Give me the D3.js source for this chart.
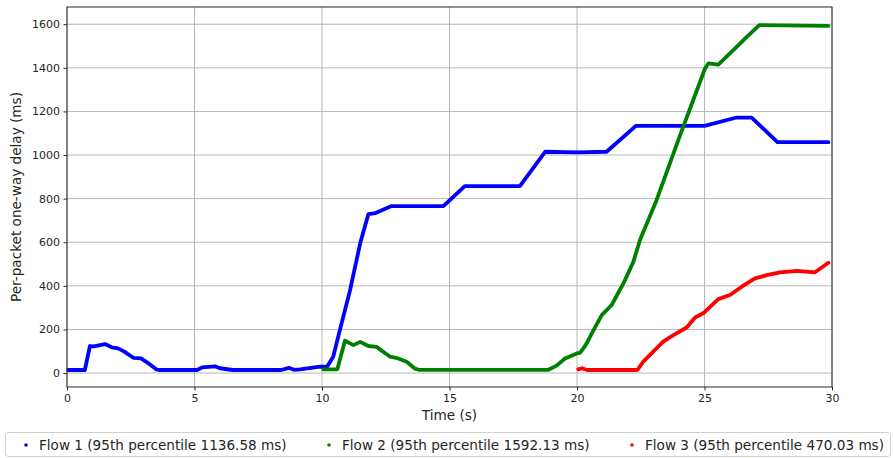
<!DOCTYPE html>
<html><head><meta charset="utf-8">
<script src="https://cdn.jsdelivr.net/npm/d3@7"></script>
<style>
html,body{margin:0;padding:0;background:#fff;}
svg{display:block;font-family:"DejaVu Sans",sans-serif;}
</style></head><body>
<svg id="chart" width="893" height="458"></svg>
<script>
// ---- data ----
const flow1T = [0.05,0.7,0.9,1.05,1.49,1.75,2.0,2.25,2.6,2.9,3.2,3.5,3.6,5.1,5.3,5.8,6.0,6.5,8.4,8.7,8.9,9.14,9.92,10.2,10.44,10.7,11.1,11.5,11.82,12.1,12.73,14.76,15.6,17.76,18.75,20.0,21.16,22.31,25.0,26.26,26.85,27.86,29.86];
const flow1V = [14,14,124,122,133,118,113,98,70,67,44,17,14,14,26,31,22,14,14,24,15,17,29,29,75,197,380,596,729,734,766,766,857,857,1015,1012,1015,1134,1134,1172,1172,1059,1059];
const flow2T = [10.05,10.6,10.9,11.23,11.5,11.82,12.14,12.67,12.99,13.32,13.65,13.8,18.88,19.2,19.53,19.99,20.12,20.25,20.38,20.58,20.97,21.36,21.82,22.21,22.47,23.12,24.04,25.02,25.15,25.54,26.13,26.66,27.15,29.86];
const flow2V = [17,17,148,128,143,124,120,75,67,52,20,15,15,34,67,90,93,113,136,182,266,312,411,510,610,793,1090,1397,1420,1415,1481,1542,1596,1592];
const flow3T = [20.05,20.2,20.4,22.37,22.6,22.99,23.38,23.78,24.3,24.63,24.95,25.54,26.0,26.46,26.98,27.44,27.96,28.62,29.33,29.86];
const flow3V = [17,22,14,14,52,98,144,174,209,255,274,339,358,396,434,449,462,469,462,506];
const flowNames = ["Flow 1 (95th percentile 1136.58 ms)","Flow 2 (95th percentile 1592.13 ms)","Flow 3 (95th percentile 470.03 ms)"];
const flowColors = ["#0000ff","#008000","#ff0000"];
const xTicks = [0,5,10,15,20,25,30];
const yTicks = [0,200,400,600,800,1000,1200,1400,1600];

// ---- layout ----
const svg = d3.select("#chart");
const L = 67, R = 832, T = 7, B = 387;
const x = d3.scaleLinear().domain([0,30]).range([L,R]);
const y = d3.scaleLinear().domain([-64,1679]).range([B,T]);

// grid
const g = svg.append("g");
g.selectAll(".gx").data(xTicks).enter().append("line")
  .attr("x1",d=>x(d)).attr("x2",d=>x(d)).attr("y1",T).attr("y2",B)
  .attr("stroke","#b0b0b0").attr("stroke-width",0.9);
g.selectAll(".gy").data(yTicks).enter().append("line")
  .attr("y1",d=>y(d)).attr("y2",d=>y(d)).attr("x1",L).attr("x2",R)
  .attr("stroke","#b0b0b0").attr("stroke-width",0.9);

// series
const series = [[flow1T,flow1V],[flow2T,flow2V],[flow3T,flow3V]];
const line = d3.line().x(d=>x(d[0])).y(d=>y(d[1]));
series.forEach((s,i)=>{
  const pts = s[0].map((t,k)=>[t,s[1][k]]);
  svg.append("path").datum(pts).attr("d",line)
    .attr("fill","none").attr("stroke",flowColors[i])
    .attr("stroke-width",3.8).attr("stroke-linejoin","round").attr("stroke-linecap","round");
});

// axes
const fmt = d3.format("d");
const xAxis = d3.axisBottom(x).tickValues(xTicks).tickFormat(fmt).tickSize(3.5).tickPadding(3.5);
const yAxis = d3.axisLeft(y).tickValues(yTicks).tickFormat(fmt).tickSize(3.5).tickPadding(3.5);
const gx = svg.append("g").attr("transform",`translate(0,${B})`).call(xAxis);
const gy = svg.append("g").attr("transform",`translate(${L},0)`).call(yAxis);
[gx,gy].forEach(a=>{
  a.select(".domain").remove();
  a.selectAll("text").attr("font-size","11px").attr("fill","#262626").attr("font-family","DejaVu Sans");
  a.selectAll("line").attr("stroke","#262626");
});
// frame
svg.append("rect").attr("x",L).attr("y",T).attr("width",R-L).attr("height",B-T)
  .attr("fill","none").attr("stroke","#262626").attr("stroke-width",1);

// axis labels
svg.append("text").attr("x",(L+R)/2).attr("y",420).attr("text-anchor","middle")
  .attr("font-size","13.6px").attr("fill","#262626").text("Time (s)");
svg.append("text").attr("transform",`translate(21,${(T+B)/2}) rotate(-90)`).attr("text-anchor","middle")
  .attr("font-size","13.6px").attr("fill","#262626").text("Per-packet one-way delay (ms)");

// legend
const lg = svg.append("g");
lg.append("rect").attr("x",5.5).attr("y",432.5).attr("width",885).attr("height",24).attr("rx",3)
  .attr("fill","#fff").attr("stroke","#d0d0d0");
const legX = [26,329,632];
flowNames.forEach((n,i)=>{
  lg.append("circle").attr("cx",legX[i]).attr("cy",445).attr("r",1.8).attr("fill",flowColors[i]);
  lg.append("text").attr("x",legX[i]+13).attr("y",449.5).attr("font-size","13.6px").attr("fill","#262626").text(n);
});
</script>
</body></html>
